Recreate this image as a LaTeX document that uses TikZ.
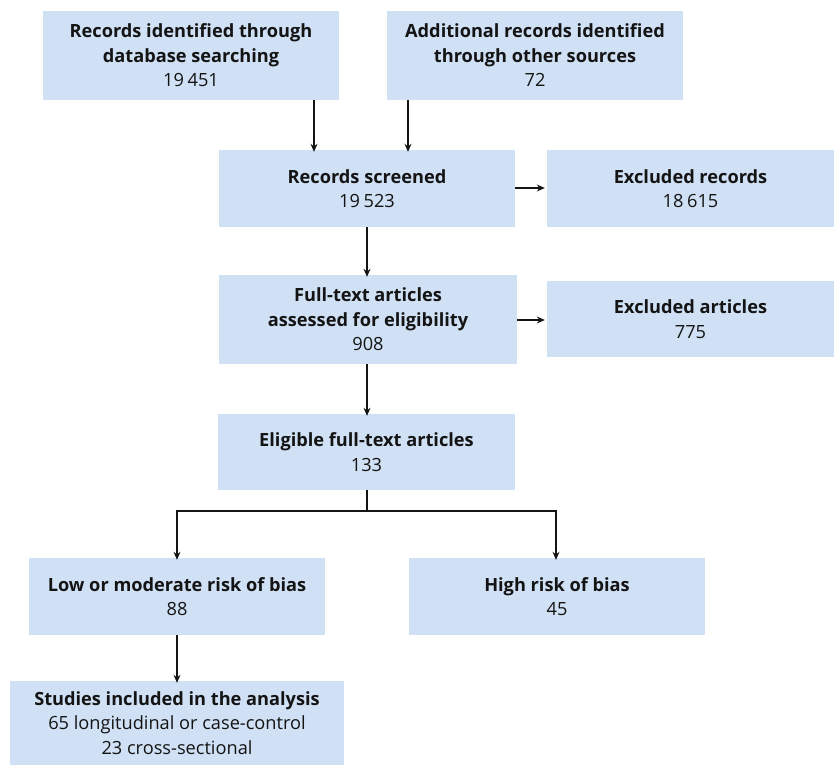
\documentclass[tikz,border=0pt]{standalone}
\usepackage{fontspec}
\setmainfont{Open Sans}
\usetikzlibrary{arrows.meta}
\definecolor{boxblue}{RGB}{208,224,245}
\definecolor{ink}{RGB}{20,20,20}
\tikzset{
  box/.style={fill=boxblue, draw=none, inner sep=0pt, align=center, text=ink,
    font=\fontsize{18.2}{24.5}\selectfont},
  arr/.style={draw=ink, line width=1.2pt, -{Stealth[length=8pt,width=7pt]}},
  ln/.style={draw=ink, line width=1.2pt}
}
\newcommand{\hd}[1]{\textbf{#1}}
\newcommand{\ns}{\hspace{0.2em}}
\begin{document}
\begin{tikzpicture}[x=1pt,y=-1pt]
\useasboundingbox (0,0) rectangle (834,765);
\node[box, minimum width=296pt, minimum height=89pt] (A) at (191,55.5) {\hd{Records identified through}\\\hd{database searching}\\19\ns451};
\node[box, minimum width=296pt, minimum height=89pt] (B) at (535,55.5) {\hd{Additional records identified}\\\hd{through other sources}\\72};
\node[box, minimum width=296pt, minimum height=77pt] (C) at (367,188.5) {\hd{Records screened}\\19\ns523};
\node[box, minimum width=287pt, minimum height=77pt] (D) at (690.5,188.5) {\hd{Excluded records}\\18\ns615};
\node[box, minimum width=298pt, minimum height=89pt] (E) at (368,319.5) {\hd{Full-text articles}\\\hd{assessed for eligibility}\\908};
\node[box, minimum width=287pt, minimum height=76pt] (F) at (690.5,319) {\hd{Excluded articles}\\775};
\node[box, minimum width=297pt, minimum height=76pt] (G) at (366.5,452) {\hd{Eligible full-text articles}\\133};
\node[box, minimum width=296pt, minimum height=77pt] (H) at (177,596.5) {\hd{Low or moderate risk of bias}\\88};
\node[box, minimum width=296pt, minimum height=77pt] (I) at (557,596.5) {\hd{High risk of bias}\\45};
\node[box, minimum width=334pt, minimum height=84pt] (J) at (177,723) {\hd{Studies included in the analysis}\\65 longitudinal or case-control\\23 cross-sectional};
\coordinate (xa) at (314,0);
\coordinate (xb) at (408,0);
\coordinate (xc) at (367,0);
\coordinate (ya) at (0,511);
\coordinate (xh) at (177,0);
\coordinate (xi) at (556,0);
\coordinate (ycd) at (0,188);
\coordinate (yef) at (0,320);
\draw[arr] (A.south -| xa) -- ([yshift=-2pt]C.north -| xa);
\draw[arr] (B.south -| xb) -- ([yshift=-2pt]C.north -| xb);
\draw[arr] (C.south -| xc) -- ([yshift=-2pt]E.north -| xc);
\draw[arr] (E.south -| xc) -- ([yshift=-2pt]G.north -| xc);
\draw[arr] (C.east |- ycd) -- ([xshift=-2pt]D.west |- ycd);
\draw[arr] (E.east |- yef) -- ([xshift=-2pt]F.west |- yef);
\draw[ln] (G.south -| xc) -- (ya -| xc);
\draw[arr] (ya -| xc) -- (ya -| xh) -- ([yshift=-2pt]H.north -| xh);
\draw[arr] (ya -| xc) -- (ya -| xi) -- ([yshift=-2pt]I.north -| xi);
\draw[arr] (H.south -| xh) -- ([yshift=-2pt]J.north -| xh);
\end{tikzpicture}
\end{document}
